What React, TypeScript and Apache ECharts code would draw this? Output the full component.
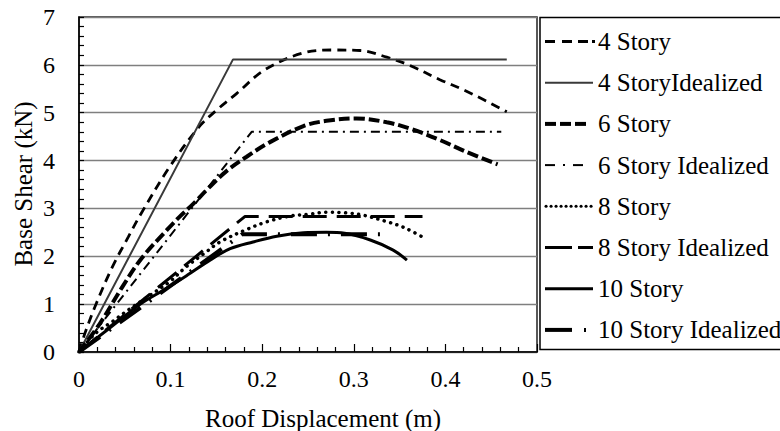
import React, { useEffect, useRef } from "react";
import * as echarts from "echarts";

const FONT = "Liberation Serif, Times New Roman, serif";

const xTicks = [0, 0.1, 0.2, 0.3, 0.4, 0.5];
const yTicks = [0, 1, 2, 3, 4, 5, 6, 7];

const seriesNames = [
  "4 Story",
  "4 StoryIdealized",
  "6 Story",
  "6 Story Idealized",
  "8 Story",
  "8 Story Idealized",
  "10 Story",
  "10 Story Idealized",
];

const story4 = [
  [0, 0], [0.007, 0.42], [0.019, 1.02], [0.037, 1.8], [0.054, 2.41], [0.068, 2.9],
  [0.099, 3.87], [0.13, 4.68], [0.15, 5.05], [0.172, 5.4], [0.203, 5.9],
  [0.245, 6.25], [0.278, 6.31], [0.307, 6.3], [0.336, 6.16], [0.361, 5.99],
  [0.394, 5.69], [0.423, 5.45], [0.467, 5.02],
];
const story4Ideal = [[0, 0], [0.168, 6.11], [0.467, 6.11]];

const story6 = [
  [0, 0], [0.023, 0.6], [0.047, 1.35], [0.068, 1.95], [0.096, 2.55], [0.11, 2.83],
  [0.125, 3.1], [0.139, 3.38], [0.161, 3.78], [0.183, 4.08], [0.208, 4.38],
  [0.245, 4.72], [0.27, 4.83], [0.303, 4.88], [0.336, 4.8], [0.361, 4.67],
  [0.394, 4.43], [0.423, 4.18], [0.457, 3.92],
];
const story6Ideal = [[0, 0], [0.1885, 4.6], [0.461, 4.6]];

const story8 = [
  [0, 0], [0.018, 0.39], [0.036, 0.63], [0.054, 0.88], [0.077, 1.18], [0.099, 1.47],
  [0.117, 1.78], [0.136, 2.05], [0.154, 2.3], [0.183, 2.56], [0.205, 2.72],
  [0.23, 2.84], [0.252, 2.88], [0.27, 2.92], [0.29, 2.91], [0.31, 2.86],
  [0.335, 2.73], [0.355, 2.6], [0.378, 2.37],
];
const story8Ideal = [[0, 0], [0.181, 2.83], [0.375, 2.83]];

const story10 = [
  [0, 0], [0.03, 0.45], [0.067, 1.0], [0.092, 1.29], [0.117, 1.59], [0.143, 1.92],
  [0.165, 2.16], [0.19, 2.3], [0.216, 2.42], [0.245, 2.49], [0.27, 2.5],
  [0.29, 2.48], [0.318, 2.34], [0.343, 2.13], [0.358, 1.92],
];
const story10Ideal = [[0, 0], [0.178, 2.46], [0.33, 2.46]];

const seriesData = [
  story4, story4Ideal, story6, story6Ideal, story8, story8Ideal, story10, story10Ideal,
];

type Sty = { color: string; width: number; dash: number[] | "solid"; cap: "butt" | "round"; smooth: boolean };
const styles: Sty[] = [
  { color: "#000", width: 2.8, dash: [9, 6], cap: "butt", smooth: true },
  { color: "#3a3a3a", width: 2, dash: "solid", cap: "butt", smooth: false },
  { color: "#000", width: 4, dash: [11, 4], cap: "butt", smooth: true },
  { color: "#000", width: 2, dash: [9, 5, 2, 5], cap: "butt", smooth: false },
  { color: "#000", width: 3.5, dash: [0.1, 6.5], cap: "round", smooth: true },
  { color: "#000", width: 3, dash: [24, 10], cap: "butt", smooth: false },
  { color: "#000", width: 3, dash: "solid", cap: "butt", smooth: true },
  { color: "#000", width: 4, dash: [26, 11, 2, 11], cap: "butt", smooth: false },
];

const legendSymbols: { segs: number[][]; width: number; color: string; cap: "butt" | "round" }[] = [
  { segs: [[0, 10], [17, 27], [33, 43], [47, 50]], width: 3, color: "#000", cap: "butt" },
  { segs: [[0, 48]], width: 2, color: "#3a3a3a", cap: "butt" },
  { segs: [[0, 11], [15, 26], [30, 41]], width: 4, color: "#000", cap: "butt" },
  { segs: [[0, 10], [18, 20], [28, 38]], width: 2, color: "#000", cap: "butt" },
  { segs: [[1, 1.1], [6, 6.1], [11, 11.1], [16, 16.1], [21, 21.1], [26, 26.1], [31, 31.1], [36, 36.1], [41, 41.1], [46, 46.1]], width: 3, color: "#000", cap: "round" },
  { segs: [[0, 27], [33, 48]], width: 3, color: "#000", cap: "butt" },
  { segs: [[0, 48]], width: 3, color: "#000", cap: "butt" },
  { segs: [[0, 27], [39, 41]], width: 4, color: "#000", cap: "butt" },
];

export default function App() {
  const ref = useRef<HTMLDivElement>(null);
  useEffect(() => {
    if (!ref.current) return;
    const chart = echarts.init(ref.current, undefined, { renderer: "svg" });

    const graphics: any[] = [];
    graphics.push({
      type: "rect",
      shape: { x: 540, y: 17.5, width: 280, height: 332 },
      style: { fill: "none", stroke: "#000", lineWidth: 1.5 },
      silent: true,
    });
    seriesNames.forEach((name, i) => {
      const cy = 41.5 + i * 41.2;
      const sym = legendSymbols[i];
      sym.segs.forEach((s) => {
        graphics.push({
          type: "line",
          shape: { x1: 545 + s[0], y1: cy, x2: 545 + s[1], y2: cy },
          style: { stroke: sym.color, lineWidth: sym.width, lineCap: sym.cap },
          silent: true,
        });
      });
      graphics.push({
        type: "text",
        x: 598,
        y: cy,
        style: {
          text: name,
          fill: "#000",
          fontFamily: FONT,
          fontSize: 25,
          verticalAlign: "middle",
          align: "left",
        },
        silent: true,
      });
    });
    graphics.push({
      type: "text",
      x: 323,
      y: 418,
      style: {
        text: "Roof Displacement (m)",
        fill: "#000",
        fontFamily: FONT,
        fontSize: 25,
        align: "center",
        verticalAlign: "middle",
      },
      silent: true,
    });
    graphics.push({
      type: "text",
      x: 23,
      y: 184,
      rotation: Math.PI / 2,
      style: {
        text: "Base Shear (kN)",
        fill: "#000",
        fontFamily: FONT,
        fontSize: 25,
        align: "center",
        verticalAlign: "middle",
      },
      silent: true,
    });

    chart.setOption({
      animation: false,
      backgroundColor: "#fff",
      textStyle: { fontFamily: FONT },
      grid: {
        left: 79,
        top: 17,
        right: 243,
        bottom: 79,
        show: true,
        borderColor: "#222",
        borderWidth: 1.5,
        backgroundColor: "transparent",
      },
      xAxis: {
        type: "value",
        min: xTicks[0],
        max: xTicks[xTicks.length - 1],
        interval: 0.1,
        axisLine: { show: true, onZero: false, lineStyle: { color: "#000", width: 1.5 } },
        axisTick: { show: true, inside: true, length: 8, lineStyle: { color: "#000", width: 1.2 } },
        minorTick: { show: true, splitNumber: 5, length: 5, lineStyle: { color: "#000", width: 1.2 } },
        splitLine: { show: false },
        axisLabel: {
          color: "#000",
          fontFamily: FONT,
          fontSize: 24,
          margin: 15,
          formatter: (v: number) => {
            const r = Math.round(v * 10) / 10;
            return r === 0 ? "0" : r.toFixed(1);
          },
        },
      },
      yAxis: {
        type: "value",
        min: yTicks[0],
        max: yTicks[yTicks.length - 1],
        interval: 1,
        axisLine: { show: true, onZero: false, lineStyle: { color: "#000", width: 1.5 } },
        axisTick: { show: true, inside: true, length: 5, lineStyle: { color: "#000", width: 1.2 } },
        minorTick: { show: true, splitNumber: 5, length: 5, lineStyle: { color: "#000", width: 1.2 } },
        splitLine: { show: true, lineStyle: { color: "#7f7f7f", width: 1.3 } },
        axisLabel: {
          color: "#000",
          fontFamily: FONT,
          fontSize: 24,
          margin: 24,
        },
      },
      graphic: graphics,
      series: seriesNames.map((name, i) => ({
        name,
        type: "line",
        data: seriesData[i],
        showSymbol: false,
        symbol: "none",
        smooth: styles[i].smooth ? 0.35 : false,
        lineStyle: {
          color: styles[i].color,
          width: styles[i].width,
          type: styles[i].dash,
          cap: styles[i].cap,
        },
        z: 3,
      })),
    });
    return () => chart.dispose();
  }, []);
  return (
    <div
      ref={ref}
      style={{ position: "fixed", left: 0, top: 0, width: 780, height: 431, background: "#fff" }}
    />
  );
}
